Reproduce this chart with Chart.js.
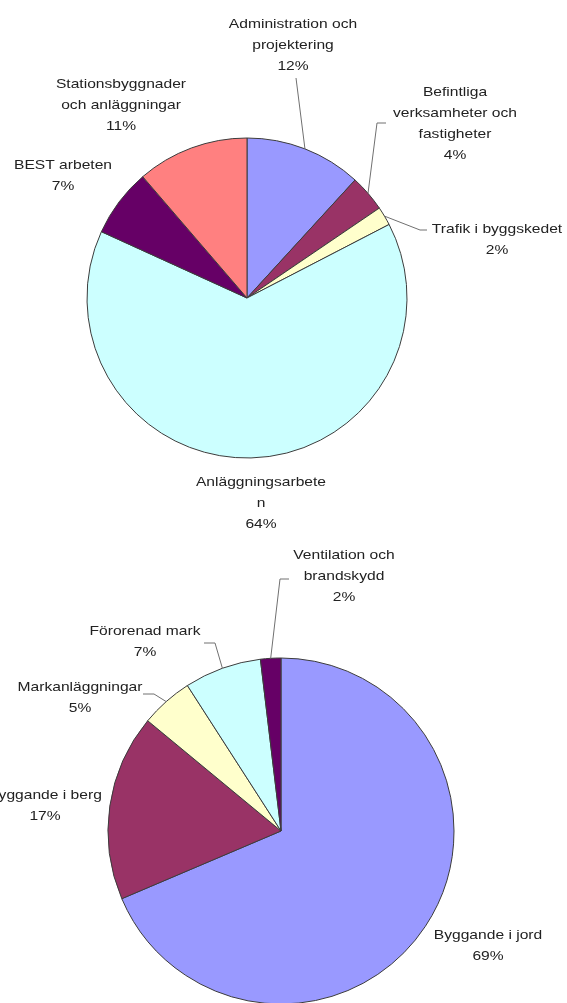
<!DOCTYPE html>
<html>
<head>
<meta charset="utf-8">
<script src="https://cdn.jsdelivr.net/npm/chart.js@4"></script>
<style>
  body { margin: 0; background: #fff; overflow: hidden; }
  canvas { position: absolute; left: 0; }
  #pieTop { top: 0; }
  #pieBottom { top: 540px; }
</style>
</head>
<body>
<canvas id="pieTop" width="567" height="540"></canvas>
<canvas id="pieBottom" width="567" height="480"></canvas>
<script>
// Övre diagrammet
const topCategories = [
    ["Administration och", "projektering"],
    ["Befintliga", "verksamheter och", "fastigheter"],
    ["Trafik i byggskedet"],
    ["Anläggningsarbete", "n"],
    ["BEST arbeten"],
    ["Stationsbyggnader", "och anläggningar"]
];
const topValues = [11.8, 3.7, 1.9, 64.4, 6.9, 11.3];
const topColors = ["#9999ff", "#993366", "#ffffcc", "#ccffff", "#660066", "#ff8080"];

// Nedre diagrammet
const bottomCategories = [
    ["Byggande i jord"],
    ["Byggande i berg"],
    ["Markanläggningar"],
    ["Förorenad mark"],
    ["Ventilation och", "brandskydd"]
];
const bottomValues = [68.6, 17.4, 4.9, 7.2, 1.9];
const bottomColors = ["#9999ff", "#993366", "#ffffcc", "#ccffff", "#660066"];

// var etiketterna står (x = mitten av texten, y = första raden)
const topPlaces = [
    { x: 293, y: 24, leader: [[296, 78]] },
    { x: 455, y: 92, leader: [[386, 123], [377, 123]] },
    { x: 497, y: 229, leader: [[427, 230], [420, 230]] },
    { x: 261, y: 482 },
    { x: 63, y: 165 },
    { x: 121, y: 84 }
];
const bottomPlaces = [
    { x: 488, y: 395 },
    { x: 45, y: 255 },
    { x: 80, y: 147, leader: [[143, 154], [154, 154]] },
    { x: 145, y: 91, leader: [[204, 103], [215, 103]] },
    { x: 344, y: 15, leader: [[289, 39], [280, 39]] }
];

const lineHeight = 21;
const textStretch = 1.2;

const calloutPlugin = {
    id: "callouts",
    afterDraw(chart, args, opts) {
        const ctx = chart.ctx;
        const meta = chart.getDatasetMeta(0);
        const data = chart.data.datasets[0].data;
        const total = data.reduce((a, b) => a + b, 0);

        meta.data.forEach((arc, i) => {
            const place = opts.places[i];
            const lines = chart.data.labels[i].concat([Math.round(data[i] / total * 100) + "%"]);

            // ledarlinje till tårtbiten
            if (place.leader) {
                const p = arc.getProps(["x", "y", "startAngle", "endAngle", "outerRadius"], true);
                const mid = (p.startAngle + p.endAngle) / 2;
                ctx.save();
                ctx.strokeStyle = "#707070";
                ctx.lineWidth = 1;
                ctx.beginPath();
                ctx.moveTo(place.leader[0][0], place.leader[0][1]);
                for (let k = 1; k < place.leader.length; k++) {
                    ctx.lineTo(place.leader[k][0], place.leader[k][1]);
                }
                ctx.lineTo(p.x + Math.cos(mid) * p.outerRadius, p.y + Math.sin(mid) * p.outerRadius);
                ctx.stroke();
                ctx.restore();
            }

            ctx.save();
            ctx.fillStyle = "#222";
            ctx.font = "13px 'Liberation Sans', Arial, sans-serif";
            ctx.textAlign = "center";
            ctx.textBaseline = "middle";
            lines.forEach((line, k) => {
                ctx.save();
                ctx.translate(place.x, place.y + k * lineHeight);
                ctx.scale(textStretch, 1);
                ctx.fillText(line, 0, 0);
                ctx.restore();
            });
            ctx.restore();
        });
    }
};

function ritaTarta(id, labels, values, colors, places, padding) {
    const ctx = document.getElementById(id).getContext("2d");
    return new Chart(ctx, {
        type: "pie",
        data: {
            labels: labels,
            datasets: [{
                data: values,
                backgroundColor: colors,
                borderColor: "#3c3c3c",
                borderWidth: 1
            }]
        },
        options: {
            responsive: false,
            animation: false,
            layout: { padding: padding },
            plugins: {
                legend: { display: false },
                tooltip: { enabled: false },
                callouts: { places: places }
            }
        },
        plugins: [calloutPlugin]
    });
}

ritaTarta("pieTop", topCategories, topValues, topColors, topPlaces,
    { left: 86.5, top: 137.5, right: 159.5, bottom: 81.5 });
ritaTarta("pieBottom", bottomCategories, bottomValues, bottomColors, bottomPlaces,
    { left: 107.5, top: 117.5, right: 112.5, bottom: 15.5 });
</script>
</body>
</html>
